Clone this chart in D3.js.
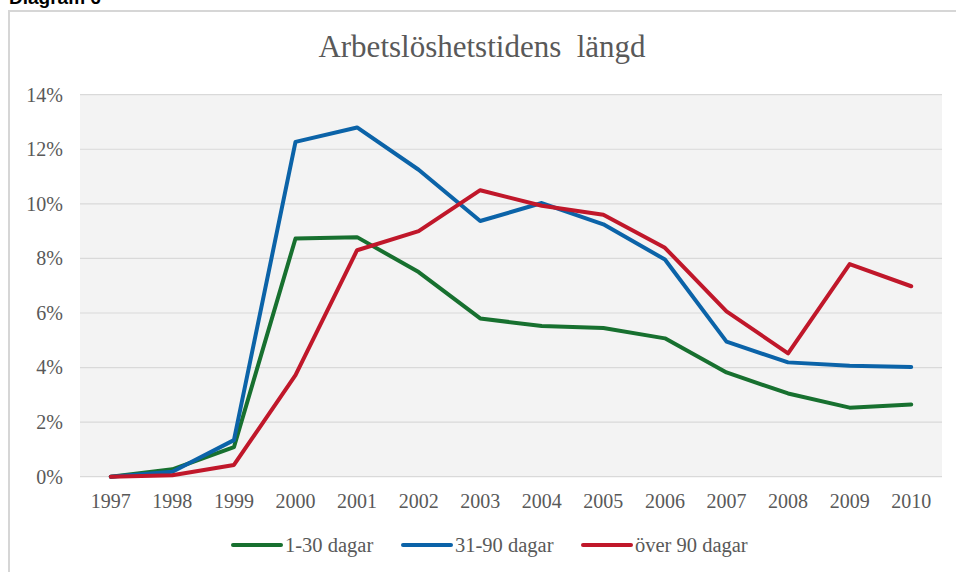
<!DOCTYPE html>
<html>
<head>
<meta charset="utf-8">
<script src="https://cdn.jsdelivr.net/npm/d3@7"></script>
<style>
  body { margin: 0; background: #fff; }
  svg { display: block; }
</style>
</head>
<body>
<div id="chart"></div>
<script>
// Chart data
const years = ['1997', '1998', '1999', '2000', '2001', '2002', '2003', '2004', '2005', '2006', '2007', '2008', '2009', '2010'];
const kort = [0, 0.27, 1.08, 8.73, 8.78, 7.5, 5.8, 5.52, 5.45, 5.07, 3.82, 3.05, 2.53, 2.65];
const mellan = [0, 0.18, 1.34, 12.27, 12.8, 11.25, 9.37, 10.03, 9.25, 7.96, 4.95, 4.19, 4.07, 4.02];
const lang = [0, 0.05, 0.43, 3.72, 8.3, 9.0, 10.5, 9.93, 9.6, 8.39, 6.06, 4.52, 7.79, 6.98];
const seriesNames = ['1-30 dagar', '31-90 dagar', 'över 90 dagar'];
const seriesColors = ['#17702f', '#0b63a8', '#c0172a'];
const yTicks = [0, 2, 4, 6, 8, 10, 12, 14];

const width = 956, height = 572;
const margin = { top: 94.7, right: 14, bottom: 95.3, left: 80 };
const serif = 'Liberation Serif, Times New Roman, serif';

const svg = d3.select('#chart').append('svg')
    .attr('width', width)
    .attr('height', height);

// Caption cut off at the top
svg.append('text')
    .attr('x', 9)
    .attr('y', 4)
    .attr('font-family', 'Liberation Sans, Arial, sans-serif')
    .attr('font-weight', 'bold')
    .attr('font-size', 19)
    .attr('fill', '#000')
    .text('Diagram 6');

// Frame
svg.append('rect')
    .attr('x', 9)
    .attr('y', 11)
    .attr('width', 960)
    .attr('height', 600)
    .attr('fill', 'none')
    .attr('stroke', '#d6d6d6')
    .attr('stroke-width', 2);

const x = d3.scaleBand()
    .domain(years)
    .range([margin.left, width - margin.right]);

const y = d3.scaleLinear()
    .domain([0, 14])
    .range([height - margin.bottom, margin.top]);

const g = svg.append('g');

// Plot background
g.append('rect')
    .attr('x', margin.left)
    .attr('y', margin.top)
    .attr('width', width - margin.left - margin.right)
    .attr('height', height - margin.top - margin.bottom)
    .attr('fill', '#f3f3f3');

// Grid
g.selectAll('.grid')
    .data(yTicks)
    .join('line')
    .attr('class', 'grid')
    .attr('x1', margin.left)
    .attr('x2', width - margin.right)
    .attr('y1', d => y(d))
    .attr('y2', d => y(d))
    .attr('stroke', '#d9d9d9')
    .attr('stroke-width', 1.2);

// Y axis labels
const yAxis = d3.axisLeft(y)
    .tickValues(yTicks)
    .tickFormat(d => d + '%')
    .tickSize(0)
    .tickPadding(17);

svg.append('g')
    .attr('transform', `translate(${margin.left},0)`)
    .call(yAxis)
    .call(s => s.select('.domain').remove())
    .selectAll('text')
    .attr('font-family', serif)
    .attr('font-size', 20)
    .attr('fill', '#595959');

// X axis labels
const xAxis = d3.axisBottom(x)
    .tickSize(0)
    .tickPadding(17);

svg.append('g')
    .attr('transform', `translate(0,${height - margin.bottom})`)
    .call(xAxis)
    .call(s => s.select('.domain').remove())
    .selectAll('text')
    .attr('font-family', serif)
    .attr('font-size', 20)
    .attr('fill', '#595959');

// Lines
const line = d3.line()
    .x((d, i) => x(years[i]) + x.bandwidth() / 2)
    .y(d => y(d));

[kort, mellan, lang].forEach((values, i) => {
    g.append('path')
        .datum(values)
        .attr('d', line)
        .attr('fill', 'none')
        .attr('stroke', seriesColors[i])
        .attr('stroke-width', 4)
        .attr('stroke-linejoin', 'round')
        .attr('stroke-linecap', 'round');
});

// Title (double space kept as in the original)
svg.append('text')
    .attr('x', 482)
    .attr('y', 57)
    .attr('text-anchor', 'middle')
    .attr('font-family', serif)
    .attr('font-size', 31)
    .attr('fill', '#595959')
    .style('white-space', 'pre')
    .text('Arbetslöshetstidens  längd');

// Legend
const legendX = [233, 403, 583];
const legend = svg.append('g');
seriesNames.forEach((name, i) => {
    legend.append('line')
        .attr('x1', legendX[i])
        .attr('x2', legendX[i] + 48)
        .attr('y1', 545)
        .attr('y2', 545)
        .attr('stroke', seriesColors[i])
        .attr('stroke-width', 4)
        .attr('stroke-linecap', 'round');
    legend.append('text')
        .attr('x', legendX[i] + 52)
        .attr('y', 552)
        .attr('font-family', serif)
        .attr('font-size', 20.5)
        .attr('fill', '#595959')
        .text(name);
});
</script>
</body>
</html>
